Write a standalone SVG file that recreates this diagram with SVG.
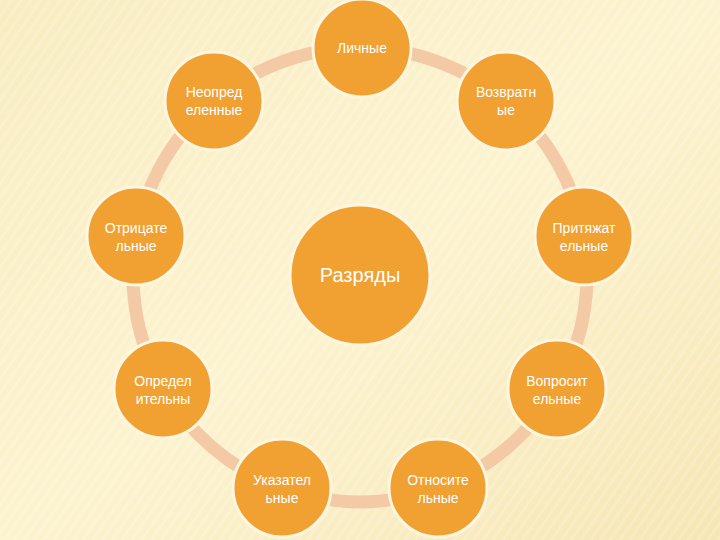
<svg xmlns="http://www.w3.org/2000/svg" width="720" height="540" viewBox="0 0 720 540">
<defs>
<linearGradient id="bg" x1="0" y1="0" x2="1" y2="1"><stop offset="0" stop-color="#f8ecc0"/><stop offset="0.5" stop-color="#fcf3cf"/><stop offset="1" stop-color="#f6e6b4"/></linearGradient>
<pattern id="st" width="8" height="8" patternUnits="userSpaceOnUse" patternTransform="rotate(35)"><rect width="3" height="8" fill="#ffffff" opacity="0.18"/></pattern>
<style>
.n{fill:#f0a132;stroke:#fff6e0;stroke-width:3}
.t{font-family:"Liberation Sans",Arial,sans-serif;font-size:14px;fill:#ffffff;text-anchor:middle}
</style>
</defs>
<rect width="720" height="540" fill="url(#bg)"/>
<rect width="720" height="540" fill="url(#st)"/>
<g id="connectors"><circle cx="360" cy="275" r="227" fill="none" stroke="#f3c9a6" stroke-width="13"/></g>
<g id="center"><circle class="n" cx="360" cy="275" r="70"/><text class="t" x="360" y="282" style="font-size:20px">Разряды</text></g>
<g id="n1"><circle class="n" cx="362" cy="48" r="49"/><text class="t" x="362" y="53">Личные</text></g>
<g id="n2"><circle class="n" cx="506" cy="101" r="49"/><text class="t" x="506" y="97">Возвратн</text><text class="t" x="506" y="115">ые</text></g>
<g id="n3"><circle class="n" cx="584" cy="236" r="49"/><text class="t" x="584" y="233">Притяжат</text><text class="t" x="584" y="251">ельные</text></g>
<g id="n4"><circle class="n" cx="557" cy="389" r="49"/><text class="t" x="557" y="386">Вопросит</text><text class="t" x="557" y="404">ельные</text></g>
<g id="n5"><circle class="n" cx="438" cy="488" r="49"/><text class="t" x="438" y="485">Относите</text><text class="t" x="438" y="503">льные</text></g>
<g id="n6"><circle class="n" cx="282" cy="488" r="49"/><text class="t" x="282" y="485">Указател</text><text class="t" x="282" y="503">ьные</text></g>
<g id="n7"><circle class="n" cx="163" cy="389" r="49"/><text class="t" x="163" y="386">Определ</text><text class="t" x="163" y="404">ительны</text></g>
<g id="n8"><circle class="n" cx="136" cy="236" r="49"/><text class="t" x="136" y="233">Отрицате</text><text class="t" x="136" y="251">льные</text></g>
<g id="n9"><circle class="n" cx="214" cy="101" r="49"/><text class="t" x="214" y="97">Неопред</text><text class="t" x="214" y="115">еленные</text></g>
</svg>
